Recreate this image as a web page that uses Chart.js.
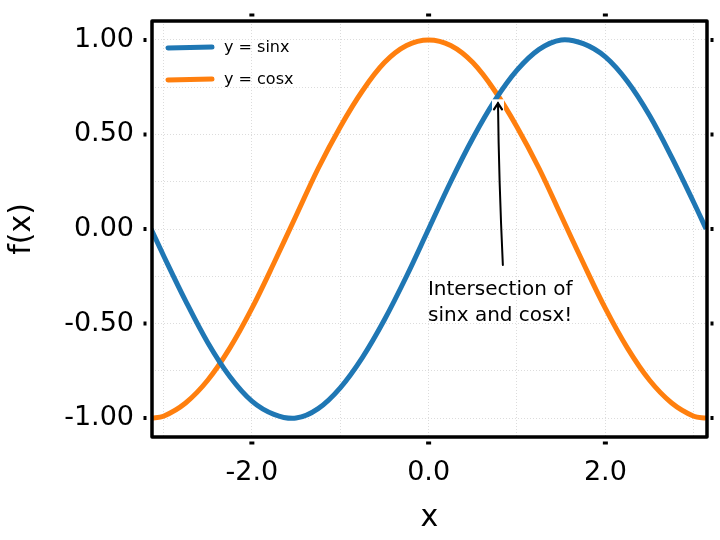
<!DOCTYPE html>
<html lang="en">
<head>
    <meta charset="UTF-8">
    <title>sin and cos</title>
    <script src="https://cdn.jsdelivr.net/npm/chart.js"></script>
    <style>
        html, body { margin: 0; padding: 0; background: #fff; }
        #wrap { width: 720px; height: 540px; }
    </style>
</head>
<body>
<div id="wrap"><canvas id="trigChart"></canvas></div>
<script>
    // values
    const xValues = [-3.14, -3.0, -2.75, -2.5, -2.25, -2.0, -1.75, -1.5, -1.25, -1.0, -0.75, -0.5, -0.25, 0.0,
                     0.25, 0.5, 0.75, 1.0, 1.25, 1.5, 1.75, 2.0, 2.25, 2.5, 2.75, 3.0, 3.14];
    const sinValues = [0.00, -0.14, -0.38, -0.60, -0.78, -0.91, -0.98, -1.00, -0.95, -0.84, -0.68, -0.48, -0.25, 0.00,
                       0.25, 0.48, 0.68, 0.84, 0.95, 1.00, 0.98, 0.91, 0.78, 0.60, 0.38, 0.14, 0.00];
    const cosValues = [-1.00, -0.99, -0.92, -0.80, -0.63, -0.42, -0.18, 0.07, 0.32, 0.54, 0.73, 0.88, 0.97, 1.00,
                       0.97, 0.88, 0.73, 0.54, 0.32, 0.07, -0.18, -0.42, -0.63, -0.80, -0.92, -0.99, -1.00];

    const xGrid = [-3, -2, -1, 0, 1, 2, 3];
    const yGrid = [-1, -0.75, -0.5, -0.25, 0, 0.25, 0.5, 0.75, 1];
    const xTickLabels = [-2, 0, 2];
    const yTickLabels = [-1, -0.5, 0, 0.5, 1];

    const seriesNames = ['y = sinx', 'y = cosx'];
    const annotationPoint = [0.785, 0.707];
    const annotationText = ['Intersection of', 'sinx and cosx!'];

    const FONT = "'DejaVu Sans', sans-serif";
    const BLUE = '#1f77b4';
    const ORANGE = '#ff7f0e';

    // draws the heavy frame, the little outside ticks, the legend and the arrow note
    const framePlugin = {
        id: 'frame',
        afterDraw(chart) {
            const ctx = chart.ctx;
            const a = chart.chartArea;
            const xs = chart.scales.x, ys = chart.scales.y;
            ctx.save();
            ctx.strokeStyle = '#000';
            ctx.lineCap = 'round';
            ctx.lineWidth = 3.5;
            ctx.beginPath();
            ctx.moveTo(a.left, a.top); ctx.lineTo(a.right, a.top);
            ctx.moveTo(a.left, a.bottom); ctx.lineTo(a.right, a.bottom);
            ctx.moveTo(a.left, a.top); ctx.lineTo(a.left, a.bottom);
            ctx.moveTo(a.right, a.top); ctx.lineTo(a.right, a.bottom);
            ctx.stroke();

            ctx.lineWidth = 3;
            ctx.lineCap = 'butt';
            ctx.beginPath();
            xTickLabels.forEach(v => {
                const px = xs.getPixelForValue(v);
                ctx.moveTo(px - 2.5, a.top - 6); ctx.lineTo(px + 2.5, a.top - 6);
                ctx.moveTo(px - 2.5, a.bottom + 6); ctx.lineTo(px + 2.5, a.bottom + 6);
            });
            yTickLabels.forEach(v => {
                const py = ys.getPixelForValue(v);
                ctx.moveTo(a.left - 7, py - 2); ctx.lineTo(a.left - 7, py + 2);
                ctx.moveTo(a.right + 5, py - 2); ctx.lineTo(a.right + 5, py + 2);
            });
            ctx.stroke();

            // legend, top left inside the frame
            ctx.font = '16px ' + FONT;
            ctx.textAlign = 'left';
            ctx.textBaseline = 'middle';
            chart.data.datasets.forEach((d, i) => {
                const ly = a.top + 27 + i * 32;
                ctx.strokeStyle = d.borderColor;
                ctx.lineWidth = 5;
                ctx.lineCap = 'round';
                ctx.beginPath();
                ctx.moveTo(a.left + 16, ly);
                ctx.lineTo(a.left + 60, ly - 1);
                ctx.stroke();
                ctx.fillStyle = '#000';
                ctx.fillText(d.label, a.left + 72, ly);
            });

            // annotation
            const tipX = xs.getPixelForValue(annotationPoint[0]);
            const tipY = ys.getPixelForValue(annotationPoint[1]);
            const tailX = xs.getPixelForValue(0.84);
            const tailY = ys.getPixelForValue(-0.19);
            ctx.strokeStyle = '#000';
            ctx.lineCap = 'round';
            ctx.fillStyle = '#fff';
            ctx.fillRect(tipX - 6, tipY + 4, 12, 12);
            ctx.lineWidth = 2;
            ctx.beginPath();
            ctx.moveTo(tailX, tailY);
            ctx.quadraticCurveTo(tailX - 4, (tailY + tipY) / 2, tipX, tipY + 8);
            ctx.stroke();
            ctx.lineWidth = 2.2;
            ctx.beginPath();
            ctx.moveTo(tipX - 4, tipY + 14);
            ctx.lineTo(tipX, tipY + 8);
            ctx.lineTo(tipX + 4, tipY + 14);
            ctx.stroke();

            ctx.fillStyle = '#000';
            ctx.font = '20px ' + FONT;
            ctx.textAlign = 'center';
            ctx.textBaseline = 'middle';
            const tx = xs.getPixelForValue(0.81);
            ctx.fillText(annotationText[0], tx, ys.getPixelForValue(-0.32));
            ctx.fillText(annotationText[1], tx, ys.getPixelForValue(-0.46));
            ctx.restore();
        }
    };

    const toPoints = ys => xValues.map((x, i) => ({ x: x, y: ys[i] }));

    new Chart(document.getElementById('trigChart'), {
        type: 'line',
        data: {
            datasets: [
                {
                    label: seriesNames[0],
                    data: toPoints(sinValues),
                    borderColor: BLUE,
                    backgroundColor: BLUE,
                    borderWidth: 5,
                    pointRadius: 0,
                    tension: 0.35
                },
                {
                    label: seriesNames[1],
                    data: toPoints(cosValues),
                    borderColor: ORANGE,
                    backgroundColor: ORANGE,
                    borderWidth: 5,
                    pointRadius: 0,
                    tension: 0.35
                }
            ]
        },
        options: {
            responsive: true,
            maintainAspectRatio: false,
            animation: false,
            layout: { padding: { top: 21, right: 13, left: 0, bottom: 0 } },
            plugins: {
                tooltip: { enabled: false },
                legend: { display: false }
            },
            scales: {
                x: {
                    type: 'linear',
                    min: -3.13,
                    max: 3.15,
                    afterBuildTicks: axis => { axis.ticks = xGrid.map(v => ({ value: v })); },
                    afterFit: axis => { axis.height = 103; axis.paddingLeft = 0; axis.paddingRight = 0; },
                    border: { display: false, dash: [1, 2] },
                    grid: { color: '#dcdcdc', lineWidth: 1, drawTicks: false },
                    ticks: {
                        padding: 20,
                        color: '#000',
                        maxRotation: 0,
                        autoSkip: false,
                        font: { family: FONT, size: 27 },
                        callback: v => xTickLabels.includes(v) ? v.toFixed(1) : ''
                    },
                    title: {
                        display: true,
                        text: 'x',
                        color: '#000',
                        padding: { top: 4 },
                        font: { family: FONT, size: 30 }
                    }
                },
                y: {
                    type: 'linear',
                    min: -1.1,
                    max: 1.1,
                    afterBuildTicks: axis => { axis.ticks = yGrid.map(v => ({ value: v })); },
                    afterFit: axis => { axis.width = 152; axis.paddingTop = 0; axis.paddingBottom = 0; },
                    border: { display: false, dash: [1, 2] },
                    grid: { color: '#dcdcdc', lineWidth: 1, drawTicks: false },
                    ticks: {
                        padding: 18,
                        color: '#000',
                        autoSkip: false,
                        font: { family: FONT, size: 27 },
                        callback: v => yTickLabels.includes(v) ? v.toFixed(2) : ''
                    },
                    title: {
                        display: true,
                        text: 'f(x)',
                        color: '#000',
                        padding: { bottom: 0 },
                        font: { family: FONT, size: 30 }
                    }
                }
            }
        },
        plugins: [framePlugin]
    });
</script>
</body>
</html>
